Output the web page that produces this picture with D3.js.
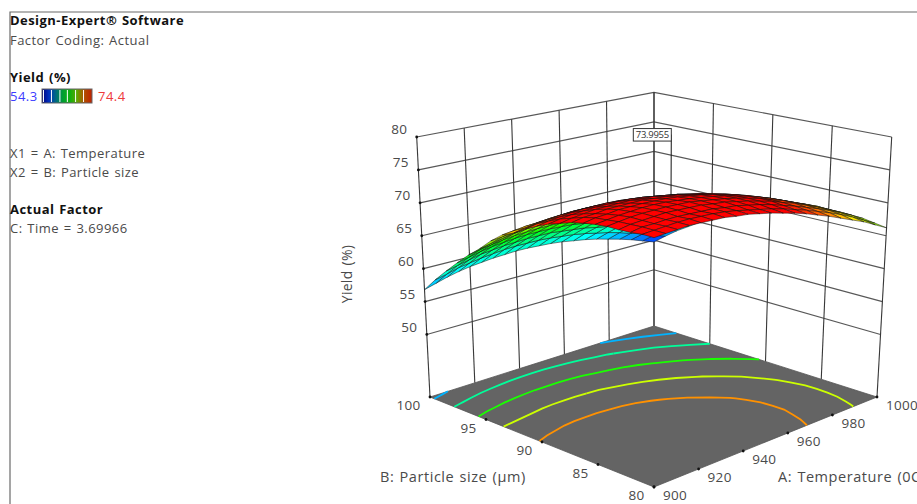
<!DOCTYPE html>
<html><head><meta charset="utf-8">
<script src="https://cdn.jsdelivr.net/npm/d3@7/dist/d3.min.js"></script>
<style>
html,body{margin:0;padding:0;background:#fff;overflow:hidden}
svg{display:block}
text{font-family:"Open Sans",sans-serif;font-size:13px;fill:#4a4a4a;letter-spacing:.45px;word-spacing:1px}
text.tk{font-size:13.5px;letter-spacing:.3px}
text.yl{font-size:14px;letter-spacing:.3px}
text.ax{font-size:14.5px;letter-spacing:.55px}
</style></head><body>
<svg id="c" width="917" height="504"></svg>
<script>
// ---- data ----
const tempGrid = [900,905,910,915,920,925,930,935,940,945,950,955,960,965,970,975,980,985,990,995,1000];
const sizeGrid = [80,81,82,83,84,85,86,87,88,89,90,91,92,93,94,95,96,97,98,99,100];
// one row per particle size, one column per temperature
const yieldGrid = [
[74.9,75.0,75.1,75.2,75.1,75.0,74.9,74.6,74.4,74.0,73.6,73.1,72.6,72.0,71.3,70.6,69.8,69.0,68.2,67.2,66.2],
[74.9,75.0,75.1,75.2,75.2,75.1,75.0,74.8,74.5,74.1,73.7,73.3,72.8,72.2,71.6,70.9,70.2,69.4,68.5,67.5,66.5],
[74.7,75.0,75.0,75.1,75.1,75.0,74.9,74.8,74.5,74.3,73.9,73.5,73.0,72.4,71.8,71.1,70.4,69.6,68.7,67.8,66.8],
[74.6,74.9,75.0,75.1,75.2,75.1,75.0,74.9,74.6,74.4,74.0,73.6,73.1,72.6,71.9,71.3,70.5,69.7,68.8,67.9,66.9],
[74.6,74.8,75.0,75.1,75.1,75.1,75.0,74.9,74.6,74.3,74.0,73.6,73.1,72.6,71.9,71.3,70.5,69.7,68.9,67.9,66.9],
[74.4,74.6,74.8,74.9,75.0,75.0,74.9,74.7,74.5,74.2,73.9,73.5,73.0,72.5,71.9,71.2,70.4,69.6,68.8,67.9,66.9],
[74.1,74.4,74.5,74.7,74.7,74.7,74.6,74.5,74.3,74.0,73.7,73.3,72.8,72.3,71.7,71.0,70.3,69.5,68.6,67.7,66.7],
[73.7,74.0,74.1,74.3,74.3,74.3,74.3,74.1,73.9,73.7,73.3,72.9,72.5,72.0,71.4,70.7,70.0,69.2,68.4,67.4,66.5],
[73.1,73.4,73.6,73.8,73.8,73.8,73.8,73.6,73.5,73.2,72.9,72.5,72.1,71.5,71.0,70.3,69.6,68.8,68.0,67.1,66.1],
[72.5,72.8,73.0,73.1,73.2,73.2,73.2,73.1,72.9,72.6,72.3,72.0,71.5,71.0,70.5,69.8,69.1,68.4,67.5,66.7,65.7],
[71.7,72.0,72.2,72.4,72.5,72.5,72.5,72.4,72.2,72.0,71.7,71.3,70.9,70.4,69.8,69.2,68.5,67.8,67.0,66.1,65.2],
[70.8,71.1,71.3,71.5,71.6,71.6,71.6,71.5,71.4,71.2,70.9,70.6,70.1,69.7,69.1,68.5,67.9,67.1,66.3,65.5,64.5],
[69.7,70.0,70.3,70.5,70.6,70.7,70.7,70.6,70.5,70.3,70.0,69.7,69.3,68.8,68.3,67.7,67.1,66.4,65.6,64.7,63.8],
[68.9,69.1,69.3,69.4,69.5,69.6,69.6,69.6,69.4,69.3,69.0,68.7,68.3,67.9,67.4,66.8,66.2,65.5,64.7,63.9,63.0],
[67.5,67.7,67.9,68.1,68.3,68.4,68.4,68.4,68.3,68.2,67.9,67.6,67.3,66.9,66.4,65.8,65.2,64.5,63.8,63.0,62.1],
[65.8,66.2,66.5,66.8,67.0,67.1,67.1,67.1,67.1,66.9,66.7,66.5,66.1,65.7,65.3,64.7,64.1,63.5,62.8,62.0,61.1],
[64.3,64.7,65.0,65.3,65.5,65.6,65.7,65.7,65.7,65.6,65.4,65.1,64.8,64.5,64.0,63.5,62.9,62.3,61.6,60.8,60.0],
[62.6,63.0,63.4,63.7,63.9,64.1,64.2,64.2,64.2,64.1,64.0,63.7,63.5,63.1,62.7,62.2,61.7,61.1,60.4,59.6,58.8],
[60.8,61.2,61.6,62.0,62.2,62.4,62.5,62.6,62.6,62.6,62.4,62.2,62.0,61.6,61.3,60.8,60.3,59.7,59.0,58.3,57.6],
[58.9,59.3,59.8,60.1,60.4,60.6,60.8,60.9,60.9,60.9,60.8,60.6,60.4,60.1,59.7,59.3,58.8,58.2,57.6,56.9,56.2],
[56.8,57.3,57.8,58.2,58.5,58.7,58.9,59.0,59.1,59.1,59.0,58.9,58.7,58.4,58.1,57.7,57.2,56.7,56.1,55.4,54.7]
];
const tempTicks = [900,920,940,960,980,1000];
const sizeTicks = [80,85,90,95,100];
const yieldTicks = [50,55,60,65,70,75,80];
const contourLevels = [57.6,61.1,64.8,68.3,71.5];
const legendMarks = [54.9,58.1,61.5,64.5,67.8,71.0];
const flagPoint = {temp:938.7,size:86.3,value:73.9955,label:"73.9955"};
const legendLines = [
 {t:"Design-Expert® Software",y:20,b:1},
 {t:"Factor Coding: Actual",y:40},
 {t:"Yield (%)",y:77,b:1},
 {t:"X1 = A: Temperature",y:153},
 {t:"X2 = B: Particle size",y:172},
 {t:"Actual Factor",y:209,b:1},
 {t:"C: Time = 3.69966",y:228}
];

// ---- box corners on screen: floor [x,y] and lid [x,y] at (temp low/high, size low/high) ----
const box = {
  floor00:[654,487],   floor10:[877,397],   floor11:[654,326],  floor01:[430,397],
  lid00:[654,200.7],   lid10:[891.7,137],   lid11:[654,92.3],   lid01:[416.7,137]
};
const uScale=d3.scaleLinear().domain([900,1000]).range([0,1]);
const vScale=d3.scaleLinear().domain([80,100]).range([0,1]);
const wScale=d3.scaleLinear().domain([40.5,80]).range([0,1]);
const FLOORZ=40.5;
function project(temp,size,val){
  const u=uScale(temp),v=vScale(size),w=wScale(val);
  const mix=(c)=>{
    const f=(1-u)*(1-v)*box.floor00[c]+u*(1-v)*box.floor10[c]+u*v*box.floor11[c]+(1-u)*v*box.floor01[c];
    const l=(1-u)*(1-v)*box.lid00[c]+u*(1-v)*box.lid10[c]+u*v*box.lid11[c]+(1-u)*v*box.lid01[c];
    return f+(l-f)*w;
  };
  return [mix(0),mix(1)];
}
const line=d3.line();
const svg=d3.select("#c");

// frame
svg.append("path").attr("d","M917,12H10V504").attr("fill","none").attr("stroke","#6a6a6a").attr("stroke-width",1.2);

// left legend text
svg.selectAll("text.lg").data(legendLines).join("text").attr("class","lg")
  .attr("x",10).attr("y",d=>d.y).attr("dy","0.36em")
  .style("font-weight",d=>d.b?700:400).style("fill",d=>d.b?"#111":"#4a4a4a").text(d=>d.t);
svg.append("text").attr("x",10).attr("y",96).attr("dy","0.36em").style("fill","#3c3cff").text("54.3");
svg.append("text").attr("x",98).attr("y",96).attr("dy","0.36em").style("fill","#ee3a3a").text("74.4");
// legend bar
const defs=svg.append("defs");
const gr=defs.append("linearGradient").attr("id","lg");
[["0%","#00007a"],["14%","#0030c0"],["28%","#006a80"],["42%","#00a030"],["56%","#10b010"],["70%","#60a800"],["84%","#b05000"],["100%","#c02000"]]
  .forEach(s=>gr.append("stop").attr("offset",s[0]).attr("stop-color",s[1]));
const legX=d3.scaleLinear().domain([54.3,74.4]).range([42,92]);
svg.append("rect").attr("x",legX(54.3)).attr("y",89).attr("width",legX(74.4)-legX(54.3)).attr("height",14)
  .attr("fill","url(#lg)").attr("stroke","#666");
svg.selectAll("line.lm").data(legendMarks).join("line").attr("class","lm")
  .attr("x1",legX).attr("x2",legX).attr("y1",90).attr("y2",102).attr("stroke","#fff").attr("stroke-width",1);

// walls
function wallLine(p,col,wd){svg.append("path").attr("d",line(p)).attr("fill","none").attr("stroke",col).attr("stroke-width",wd);}
yieldTicks.forEach(z=>{
  wallLine([project(900,100,z),project(1000,100,z),project(1000,80,z)],"#585858",1.2);
});
tempTicks.forEach(t=>wallLine([project(t,100,FLOORZ),project(t,100,80)],"#383838",1.1));
sizeTicks.forEach(s=>wallLine([project(1000,s,FLOORZ),project(1000,s,80)],"#383838",1.1));

// floor
const floor=[project(900,80,FLOORZ),project(1000,80,FLOORZ),project(1000,100,FLOORZ),project(900,100,FLOORZ)];
svg.append("path").attr("d",line(floor)+"Z").attr("fill","#646464").attr("stroke","#555").attr("stroke-width",0.8);

// floor contours
const color=d3.scaleLinear().domain([54.3,59,64.3,69.3,74.4]).range(["#0000ff","#00ffff","#00ff00","#ffff00","#ff0000"]).clamp(true);
const meshColor=d3.scaleLinear().domain([54.3,59,64.5,68.5,72.5]).range(["#0000ff","#00ffff","#00ff00","#ffff00","#ff0000"]).clamp(true);
const cx=d3.scaleLinear().domain([0.5,20.5]).range([900,1000]);
const cy=d3.scaleLinear().domain([0.5,20.5]).range([80,100]);
const contourGen=d3.contours().size([21,21]).thresholds(contourLevels);
const flat=yieldGrid.flat();
contourGen(flat).forEach(c=>{
  c.coordinates.forEach(poly=>poly.forEach(ring=>{
    let seg=[];
    const flush=()=>{ if(seg.length>1) svg.append("path").attr("d",line(seg)).attr("fill","none")
        .attr("stroke",color(c.value)).attr("stroke-width",1.8); seg=[]; };
    ring.forEach(p=>{
      if(p[0]<0.5||p[0]>20.5||p[1]<0.5||p[1]>20.5){flush();}
      else seg.push(project(cx(p[0]),cy(p[1]),FLOORZ));
    });
    flush();
  }));
});

// flag pole and flag
const poleBase=project(flagPoint.temp,flagPoint.size,flagPoint.value);
const poleTop=project(flagPoint.temp,flagPoint.size,83.5);
svg.append("path").attr("d",line([poleBase,poleTop])).attr("stroke","#111").attr("fill","none");

// response surface, painted back to front
const cells=[];
for(let j=0;j<20;j++)for(let i=0;i<20;i++)cells.push({i,j});
cells.sort((p,q)=>(q.i+q.j)-(p.i+p.j));
svg.append("g").selectAll("path").data(cells).join("path")
  .attr("d",({i,j})=>line([
    project(tempGrid[i],sizeGrid[j],yieldGrid[j][i]),
    project(tempGrid[i+1],sizeGrid[j],yieldGrid[j][i+1]),
    project(tempGrid[i+1],sizeGrid[j+1],yieldGrid[j+1][i+1]),
    project(tempGrid[i],sizeGrid[j+1],yieldGrid[j+1][i])])+"Z")
  .attr("fill",({i,j})=>meshColor((yieldGrid[j][i]+yieldGrid[j][i+1]+yieldGrid[j+1][i+1]+yieldGrid[j+1][i])/4))
  .attr("stroke","#111").attr("stroke-width",0.5);

// flag box
svg.append("rect").attr("x",poleTop[0]-38).attr("y",poleTop[1]-6).attr("width",38).attr("height",12.5)
  .attr("fill","#fff").attr("stroke","#333");
svg.append("text").attr("x",poleTop[0]-19).attr("y",poleTop[1]).attr("dy","0.36em").attr("text-anchor","middle")
  .style("font-size","9.5px").style("letter-spacing","-0.3px").style("fill","#333").text(flagPoint.label);

// tick dots
const dots=[];
yieldTicks.forEach(z=>dots.push(project(900,100,z)));
sizeTicks.forEach(s=>dots.push(project(900,s,FLOORZ)));
tempTicks.forEach(t=>dots.push(project(t,80,FLOORZ)));
svg.selectAll("circle").data(dots).join("circle").attr("cx",p=>p[0]).attr("cy",p=>p[1]).attr("r",1.4).attr("fill","#111");

// tick labels
yieldTicks.forEach(z=>{const p=project(900,100,z);
  svg.append("text").attr("class","tk").attr("x",p[0]-9.5).attr("y",p[1]-7.5).attr("dy","0.36em").attr("text-anchor","end").text(z);});
sizeTicks.forEach(s=>{const p=project(900,s,FLOORZ);
  svg.append("text").attr("class","tk").attr("x",p[0]-9.5).attr("y",p[1]+8.5).attr("dy","0.36em").attr("text-anchor","end").text(s);});
tempTicks.forEach(t=>{const p=project(t,80,FLOORZ);
  svg.append("text").attr("class","tk").attr("x",p[0]+9).attr("y",p[1]+8.5).attr("dy","0.36em").text(t);});

// axis titles
svg.append("text").attr("class","ax").attr("x",380).attr("y",477).attr("dy","0.36em").text("B: Particle size (µm)");
svg.append("text").attr("class","ax").attr("x",778).attr("y",477).attr("dy","0.36em").text("A: Temperature (0C)");
svg.append("text").attr("class","yl").attr("transform","translate(347,274) rotate(-90)").attr("dy","0.36em").attr("text-anchor","middle").text("Yield (%)");
</script>
</body></html>
